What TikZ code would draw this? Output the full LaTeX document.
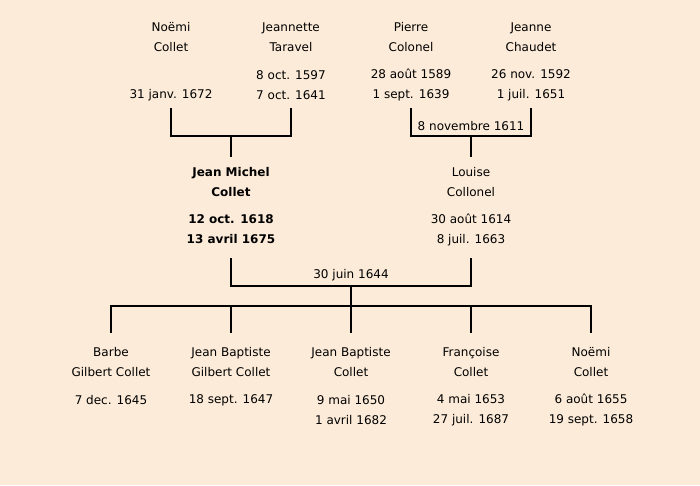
\documentclass[tikz,border=0pt]{standalone}
\usepackage{fontspec}
\setmainfont{DejaVu Sans}
\definecolor{parchment}{HTML}{FCEBD8}
\tikzset{person/.style={align=center,inner sep=0pt,font=\fontsize{12}{20}\selectfont},
	marriage/.style={inner sep=0pt,font=\fontsize{12}{20}\selectfont},
	famline/.style={line width=2.2pt}}

\begin{document}
\begin{tikzpicture}[x=1pt,y=-1pt]
			\fill[parchment] (0,0) rectangle (700,485);
			\useasboundingbox (0,0) rectangle (700,485);
			
			% grandparents
			\node[person] (noemiA) at (171,37) {Noëmi\\Collet};
			\node[person] (noemiAd) at (171,95) {31 janv. 1672};
			\node[person] (jeannette) at (291,37) {Jeannette\\Taravel};
			\node[person] (jeannetted) at (291,85) {8 oct. 1597\\7 oct. 1641};
			\node[person] (pierre) at (411,37) {Pierre\\Colonel};
			\node[person] (pierred) at (411,85) {28 août 1589\\1 sept. 1639};
			\node[person] (jeanne) at (531,37) {Jeanne\\Chaudet};
			\node[person] (jeanned) at (531,85) {26 nov. 1592\\1 juil. 1651};
			
			\coordinate (t1) at (171,108); \coordinate (t2) at (291,108);
			\coordinate (t3) at (411,108); \coordinate (t4) at (531,108);
			\coordinate (j1) at (231,136); \coordinate (j2) at (471,136);
			\coordinate (u1) at (231,157); \coordinate (u2) at (471,157);
			\draw [famline] (t1) |- (j1) -| (t2); \draw [famline] (j1) -- (u1);
			\draw [famline] (t3) |- (j2) -| (t4); \draw [famline] (j2) -- (u2);
			\node[marriage] (m1) at (471,126) {8 novembre 1611};
			
			% parents
			\node[person,font=\fontsize{12}{20}\selectfont\bfseries] (jeanmichel) at (231,182.5) {Jean Michel\\Collet};
			\node[person,font=\fontsize{12}{20}\selectfont\bfseries] (jeanmicheld) at (231,229.5) {12 oct. 1618\\13 avril 1675};
			\node[person] (louise) at (471,182.5) {Louise\\Collonel};
			\node[person] (louised) at (471,229.5) {30 août 1614\\8 juil. 1663};
			
			\coordinate (p1) at (231,258); \coordinate (p2) at (471,258);
			\coordinate (j3) at (351,286); \coordinate (j4) at (351,306);
			\draw [famline] (p1) |- (j3) -| (p2); \draw [famline] (j3) -- (j4);
			\node[marriage] (m2) at (351,275) {30 juin 1644};
			
			% children
			\coordinate (c1) at (111,333); \coordinate (c2) at (231,333);
			\coordinate (c3) at (351,333); \coordinate (c4) at (471,333);
			\coordinate (c5) at (591,333);
			\draw [famline] (c1) |- (j4) -| (c5);
			\foreach \c in {c2,c3,c4} \draw [famline] (\c) -- (\c |- j4);
			
			\node[person] (barbe) at (111,362) {Barbe\\Gilbert Collet};
			\node[person] (barbed) at (111,400) {7 dec. 1645};
			\node[person] (jbA) at (231,362) {Jean Baptiste\\Gilbert Collet};
			\node[person] (jbAd) at (231,400) {18 sept. 1647};
			\node[person] (jbB) at (351,362) {Jean Baptiste\\Collet};
			\node[person] (jbBd) at (351,410) {9 mai 1650\\1 avril 1682};
			\node[person] (francoise) at (471,362) {Françoise\\Collet};
			\node[person] (francoised) at (471,410) {4 mai 1653\\27 juil. 1687};
			\node[person] (noemiB) at (591,362) {Noëmi\\Collet};
			\node[person] (noemiBd) at (591,410) {6 août 1655\\19 sept. 1658};
			\end{tikzpicture}
\end{document}
